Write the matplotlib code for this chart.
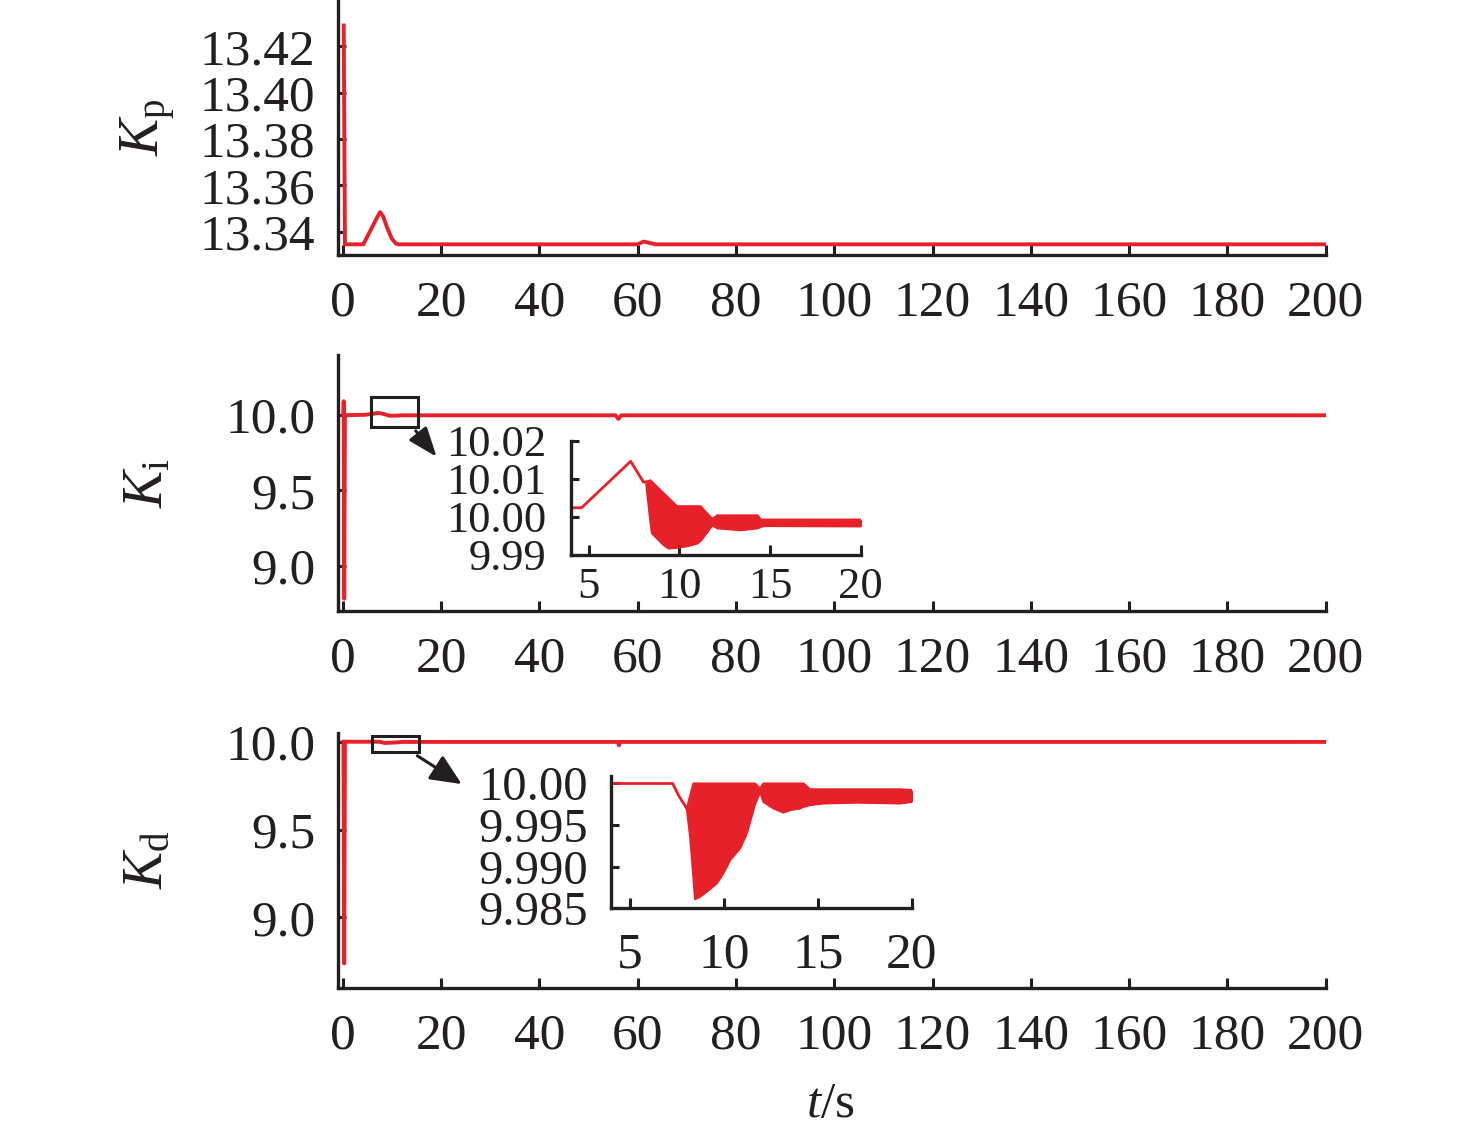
import matplotlib
matplotlib.use("Agg")
from matplotlib import pyplot as plt
from matplotlib.patches import Rectangle

plt.rcParams['font.family'] = ['Liberation Serif', 'DejaVu Serif']
plt.rcParams['mathtext.fontset'] = 'custom'
plt.rcParams['mathtext.rm'] = 'Liberation Serif'
plt.rcParams['mathtext.it'] = 'Liberation Serif:italic'

RED = '#e6212a'
INK = '#231f20'

# Kp over the whole run
kp_t = [0.2, 0.45, 4.2, 5.5, 7.0, 7.6, 8.2, 9.0, 10.0, 10.8, 11.3, 60.0, 61.2, 63.7, 200]
kp_v = [13.429, 13.3346, 13.3346, 13.3400, 13.3462, 13.3485, 13.3468, 13.3420, 13.3370,
        13.3350, 13.3346, 13.3346, 13.3358, 13.3346, 13.3346]

# Ki over the whole run
ki_t = [0.15, 0.2, 0.3, 0.45, 4.6, 7.3, 8.2, 9.5, 11.2, 12.0, 55.5, 56.1, 56.7, 200]
ki_v = [10.0, 10.093, 8.78, 10.0, 10.0024, 10.0146, 10.009, 9.996, 9.997, 9.999,
        9.999, 9.975, 9.999, 9.999]

# Kd over the whole run
kd_t = [0.15, 0.3, 0.45, 7.27, 8.0, 8.5, 9.5, 11.0, 12.0, 56.0, 56.2, 56.5, 200]
kd_v = [10.0, 8.738, 10.0, 10.0, 9.997, 9.993, 9.994, 9.996, 9.999, 9.999, 9.98, 9.999, 9.999]

# Ki zoom (4-20 s): single line, then oscillation band (upper / lower envelope)
ki_in_t = [4.0, 4.6, 7.31, 8.02, 8.17]
ki_in_v = [10.0024, 10.0024, 10.0146, 10.0091, 10.0092]
ki_band_t = [8.17, 8.39, 8.48, 9.13, 9.41, 9.87, 10.43, 10.98, 11.17, 11.35, 11.81,
             12.09, 13.39, 14.31, 14.5, 14.69, 20.05]
ki_band_hi = [10.0092, 10.0096, 10.0092, 10.0062, 10.0049, 10.0028, 10.0028, 10.0028,
              10.0028, 10.0018, 9.9995, 10.0004, 10.0004, 10.0004, 9.9993, 9.9993, 9.9993]
ki_band_lo = [10.0085, 9.9990, 9.9957, 9.9926, 9.9917, 9.9919, 9.9923, 9.9930, 9.9937,
              9.9948, 9.9978, 9.9970, 9.9965, 9.9970, 9.9974, 9.9976, 9.9975]

# Kd zoom (4-20 s)
kd_in_t = [3.97, 7.27, 7.6, 8.02]
kd_in_v = [10.0, 10.0, 9.9985, 9.997]
kd_band_t = [8.02, 8.2, 8.37, 8.46, 8.73, 9.09, 9.62, 9.97, 10.33, 10.86, 11.22, 11.57,
             11.66, 11.93, 12.1, 12.64, 13.17, 13.53, 14.06, 14.24, 14.59, 15.3, 17.08,
             19.39, 20.06]
kd_band_hi = [9.997, 9.9985, 10.0, 10.0, 10.0, 10.0, 10.0, 10.0, 10.0, 10.0, 10.0, 10.0,
              10.0, 9.9994, 10.0, 10.0, 10.0, 10.0, 10.0, 10.0, 9.9993, 9.9993, 9.9993,
              9.9993, 9.9992]
kd_band_lo = [9.997, 9.9936, 9.9888, 9.9861, 9.9864, 9.9870, 9.9880, 9.9892, 9.9908,
              9.9922, 9.9940, 9.9968, 9.9975, 9.9990, 9.9978, 9.9970, 9.9965, 9.9968,
              9.9970, 9.9972, 9.9974, 9.9976, 9.9977, 9.9976, 9.9978]

x_ticks = list(range(0, 201, 20))
kp_ticks = [13.34, 13.36, 13.38, 13.40, 13.42]
k_ticks = [9.0, 9.5, 10.0]
in_x_ticks = [5, 10, 15, 20]
ki_in_ticks = [9.99, 10.00, 10.01, 10.02]
kd_in_ticks = [9.985, 9.990, 9.995, 10.00]

W, H = 1476, 1135
fig = plt.figure(figsize=(W / 100, H / 100), dpi=100)


def px_axes(l, t, r, b):
    return fig.add_axes([l / W, 1 - b / H, (r - l) / W, (b - t) / H])


def style(ax, fs, xpad, ypad, xlen=7, ylen=6, yfs=None):
    for s in ['top', 'right']:
        ax.spines[s].set_visible(False)
    for s in ['left', 'bottom']:
        ax.spines[s].set_linewidth(2.4)
        ax.spines[s].set_color(INK)
    ax.tick_params(axis='x', direction='in', length=xlen, width=2.2, pad=xpad,
                   labelsize=fs, colors=INK)
    ax.tick_params(axis='y', direction='in', length=ylen, width=2.2, pad=ypad,
                   labelsize=yfs or fs, colors=INK)


ax1 = px_axes(338.3, 0, 1325.7, 255)
ax2 = px_axes(338.3, 355, 1325.7, 610.7)
ax3 = px_axes(338.3, 733.3, 1325.7, 987.7)

ax1.plot(kp_t, kp_v, color=RED, lw=2.8)
ax1.set_ylim(13.33, 13.44)
ax1.set_yticks(kp_ticks)
ax1.set_yticklabels([f'{v:.2f}' for v in kp_ticks])

ax2.plot(ki_t, ki_v, color=RED, lw=2.8)
ax2.set_ylim(8.70, 10.40)

ax3.plot(kd_t, kd_v, color=RED, lw=2.8)
ax3.set_ylim(8.60, 10.048)

for ax in (ax2, ax3):
    ax.set_yticks(k_ticks)
    ax.set_yticklabels([f'{v:.1f}' for v in k_ticks])

for ax in (ax1, ax2, ax3):
    ax.set_xlim(-0.9, 200)
    ax.set_xticks(x_ticks)
    style(ax, 37, 18, 16.5)

# zoom boxes and arrows
ax2.add_patch(Rectangle((5.76, 9.918), 9.5, 0.204, fill=False, ec=INK, lw=2.2, zorder=5))
ax2.annotate('', xy=(19.1, 9.723), xytext=(14.85, 9.896), annotation_clip=False,
             arrowprops=dict(arrowstyle='-|>,head_length=1.0,head_width=0.38',
                             mutation_scale=18, color=INK, lw=2.2, shrinkA=0, shrinkB=0))
ax3.add_patch(Rectangle((5.9, 9.939), 9.6, 0.0935, fill=False, ec=INK, lw=2.2, zorder=5))
ax3.annotate('', xy=(24.2, 9.759), xytext=(15.18, 9.92), annotation_clip=False,
             arrowprops=dict(arrowstyle='-|>,head_length=1.0,head_width=0.45',
                             mutation_scale=19, color=INK, lw=2.2, shrinkA=0, shrinkB=0))

# insets
ins1 = px_axes(570.7, 440.7, 860.7, 555)
ins1.plot(ki_in_t, ki_in_v, color=RED, lw=2.0)
ins1.fill_between(ki_band_t, ki_band_lo, ki_band_hi, color=RED, lw=0)
ins1.plot(ki_band_t, ki_band_hi, color=RED, lw=1.5)
ins1.plot(ki_band_t, ki_band_lo, color=RED, lw=1.5)
ins1.set_xlim(4, 20)
ins1.set_ylim(9.99, 10.02)
ins1.set_xticks(in_x_ticks)
ins1.set_yticks(ki_in_ticks)
ins1.set_yticklabels([f'{v:.2f}' for v in ki_in_ticks])
style(ins1, 32, 8.5, 17.5)

ins2 = px_axes(610.7, 776, 911.7, 908.3)
ins2.plot(kd_in_t, kd_in_v, color=RED, lw=2.0)
ins2.fill_between(kd_band_t, kd_band_lo, kd_band_hi, color=RED, lw=0)
ins2.plot(kd_band_t, kd_band_hi, color=RED, lw=1.5)
ins2.plot(kd_band_t, kd_band_lo, color=RED, lw=1.5)
ins2.set_xlim(3.97, 20)
ins2.set_ylim(9.985, 10.0009)
ins2.set_xticks(in_x_ticks)
ins2.set_yticks(kd_in_ticks)
ins2.set_yticklabels(['9.985', '9.990', '9.995', '10.00'])
style(ins2, 37, 17, 16, yfs=35)

# axis labels
lab = dict(rotation=90, ha='center', va='center', fontsize=40, color=INK)
fig.text(148 / W, 1 - 127 / H, r'$K_{\mathrm{p}}$', **lab)
fig.text(148 / W, 1 - 483 / H, r'$K_{\mathrm{i}}$', **lab)
fig.text(148 / W, 1 - 860 / H, r'$K_{\mathrm{d}}$', **lab)
fig.text(830 / W, 1 - 1105 / H, r'$t$/s', ha='center', va='center', fontsize=37, color=INK)

fig.savefig('out.png', dpi=100)
